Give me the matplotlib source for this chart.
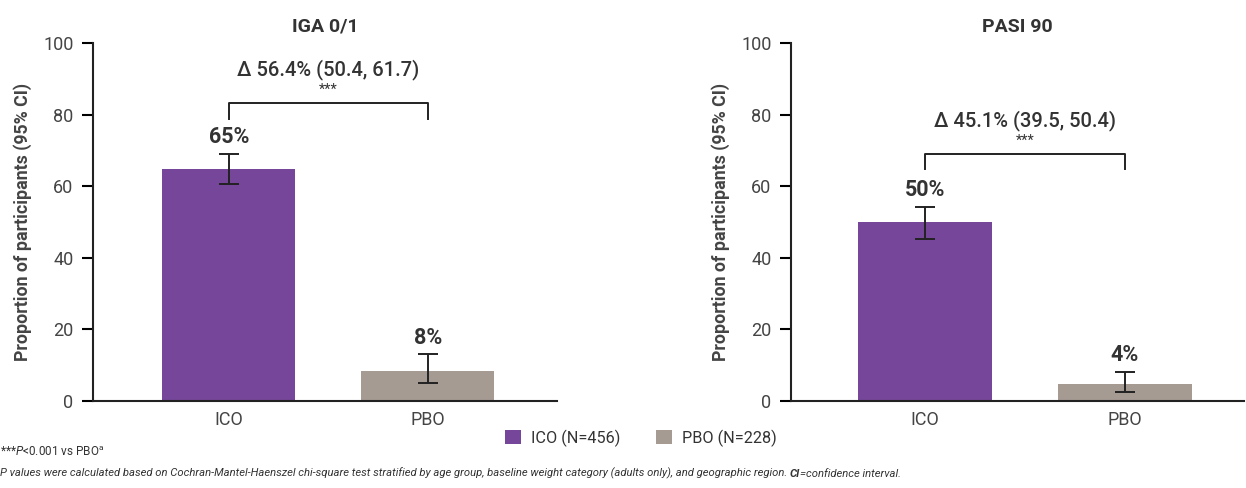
import matplotlib

matplotlib.use("Agg")
import matplotlib.pyplot as plt
from matplotlib.patches import Patch

plt.rcParams["font.family"] = ["Roboto", "DejaVu Sans"]
plt.rcParams["mathtext.fontset"] = "custom"
plt.rcParams["mathtext.rm"] = "Roboto"
plt.rcParams["mathtext.it"] = "Roboto:italic"

# --- data ---
groups = ["ICO", "PBO"]
panel_titles = ["IGA 0/1", "PASI 90"]
iga_pct = [64.8, 8.4]
iga_lo = [60.5, 5.0]
iga_hi = [69.0, 13.1]
pasi_pct = [50.0, 4.7]
pasi_lo = [45.3, 2.5]
pasi_hi = [54.2, 8.1]
bar_labels = [["65%", "8%"], ["50%", "4%"]]
delta_text = ["\u0394 56.4% (50.4, 61.7)", "\u0394 45.1% (39.5, 50.4)"]
bracket_y = [83.2, 69.0]
legend_labels = ["ICO (N=456)", "PBO (N=228)"]

PURPLE = "#754699"
GRAY = "#A69B93"
DARK = "#333333"
colors = [PURPLE, GRAY]

fig = plt.figure(figsize=(12.46, 4.88), dpi=100)
ax1 = fig.add_axes([0.0746, 0.1783, 0.3724, 0.7336])
ax2 = fig.add_axes([0.6348, 0.1783, 0.3636, 0.7336])

panels = [
    (ax1, iga_pct, iga_lo, iga_hi, (-0.683, 1.65)),
    (ax2, pasi_pct, pasi_lo, pasi_hi, (-0.67, 1.595)),
]

for k, (ax, pct, lo, hi, xlim) in enumerate(panels):
    x = [0, 1]
    ax.bar(x, pct, width=0.67, color=colors, zorder=2)
    yerr = [[p - l for p, l in zip(pct, lo)], [h - p for p, h in zip(pct, hi)]]
    ax.errorbar(x, pct, yerr=yerr, fmt="none", ecolor="#222222",
                elinewidth=1.4, capsize=7, capthick=1.4, zorder=3)
    for xi, h, lab in zip(x, hi, bar_labels[k]):
        ax.annotate(lab, (xi, h), xytext=(0, 4), textcoords="offset points",
                    ha="center", va="bottom", fontsize=15.5, fontweight="bold",
                    color=DARK)
    # significance bracket
    by = bracket_y[k]
    ax.plot([0, 0, 1, 1], [by - 4.3, by, by, by - 4.3], color="#222222",
            lw=1.4, clip_on=False)
    ax.text(0.5, by + 3.6, "***", ha="center", va="center", fontsize=10.5,
            color=DARK)
    ax.text(0.5, by + 9.3, delta_text[k], ha="center", va="center",
            fontsize=14.5, fontweight="medium", color=DARK)

    ax.set_xlim(*xlim)
    ax.set_ylim(0, 100)
    ax.set_yticks([0, 20, 40, 60, 80, 100])
    ax.set_xticks(x, groups)
    ax.tick_params(axis="y", length=8, width=1.5, labelsize=13,
                   labelcolor="#444444", direction="out", pad=6)
    ax.tick_params(axis="x", length=0, labelsize=13, labelcolor="#444444",
                   pad=7)
    for s in ["top", "right"]:
        ax.spines[s].set_visible(False)
    for s in ["left", "bottom"]:
        ax.spines[s].set_linewidth(1.5)
        ax.spines[s].set_color("#222222")
    ax.set_ylabel("Proportion of participants (95% CI)", fontsize=12.8,
                  fontweight="bold", color="#444444", labelpad=8)
    ax.set_title(panel_titles[k], fontsize=14, fontweight="bold", color=DARK,
                 pad=8)

handles = [Patch(facecolor=c, edgecolor="none") for c in colors]
fig.legend(handles, legend_labels, loc="center", bbox_to_anchor=(0.514, 0.1025),
           ncol=2, frameon=False, fontsize=11.7, handlelength=1.0,
           handleheight=1.0, columnspacing=2.2, handletextpad=0.6,
           labelcolor="#333333")

fig.text(0.0, 0.074, "***$P$<0.001 vs PBO$^{\\rm a}$", fontsize=8.5,
         color="#333333", va="center", ha="left")
t1 = fig.text(0.0, 0.0246,
              "P values were calculated based on Cochran-Mantel-Haenszel "
              "chi-square test stratified by age group, baseline weight "
              "category (adults only), and geographic region. ",
              fontsize=8.1, style="italic", color="#333333", va="baseline",
              ha="left")
# bold "CI" followed by the rest, chained onto the italic sentence
ci = ax1.annotate("CI", xy=(1, 0), xycoords=t1, fontsize=8.1, style="italic",
                  fontweight="bold", color="#333333", va="bottom", ha="left",
                  annotation_clip=False)
ax1.annotate("=confidence interval.", xy=(1, 0), xycoords=ci, fontsize=8.1,
             style="italic", color="#333333", va="bottom", ha="left",
             annotation_clip=False)

fig.savefig("out.png", dpi=100)
